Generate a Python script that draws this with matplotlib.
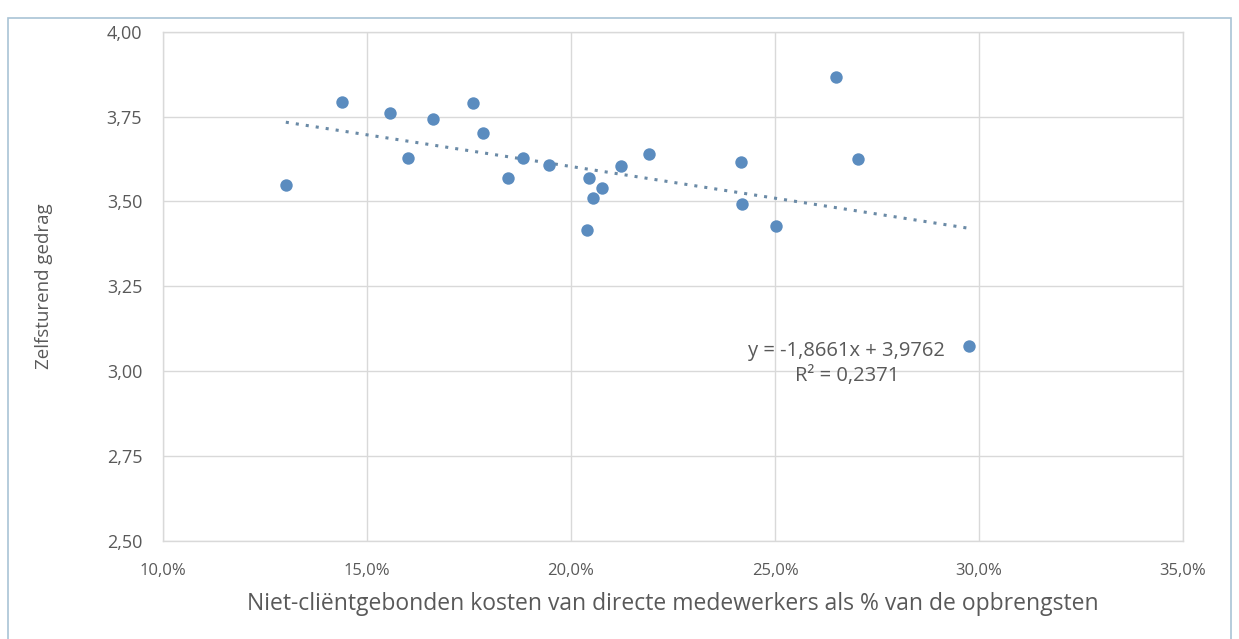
import numpy as np
import matplotlib
matplotlib.use("Agg")
import matplotlib.pyplot as plt
from matplotlib.patches import Rectangle
from matplotlib.ticker import FuncFormatter

# kosten (fractie van opbrengsten) en zelfsturend gedrag
kosten = [0.1301, 0.1438, 0.1556, 0.1601, 0.1662, 0.1760, 0.1784, 0.1846,
          0.1882, 0.1946, 0.2039, 0.2045, 0.2054, 0.2077, 0.2123, 0.2191,
          0.2417, 0.2419, 0.2502, 0.2650, 0.2703, 0.2975]
gedrag = [3.548, 3.794, 3.760, 3.629, 3.744, 3.790, 3.701, 3.570,
          3.629, 3.608, 3.417, 3.570, 3.511, 3.540, 3.603, 3.641,
          3.616, 3.493, 3.429, 3.867, 3.626, 3.074]

# trendlijn zoals in de grafiek vermeld
helling = -1.8661
snijpunt = 3.9762
r2 = 0.2371

x_ticks = [0.10, 0.15, 0.20, 0.25, 0.30, 0.35]
y_ticks = [2.50, 2.75, 3.00, 3.25, 3.50, 3.75, 4.00]

grijs = '#595959'
rooster = '#d9d9d9'
blauw = '#5b8cbf'

plt.rcParams['font.family'] = ['Open Sans', 'DejaVu Sans']

fig = plt.figure(figsize=(12.39, 6.39), dpi=100)
ax = fig.add_axes([163 / 1239, 1 - 541 / 639, 1020 / 1239, 509.3 / 639])

# kader rond de grafiek
fig.patches.append(Rectangle((8 / 1239, -0.01), 1223 / 1239, 1 - 18 / 639 + 0.01,
                             transform=fig.transFigure, fill=False,
                             edgecolor='#a9c4d6', linewidth=1.2))

ax.scatter(kosten, gedrag, s=80, color=blauw, zorder=3, linewidths=0)

xs = np.array([min(kosten), max(kosten)])
ax.plot(xs, helling * xs + snijpunt, color='#6a8aa6', linewidth=2.2,
        linestyle=(0, (1, 2.3)), zorder=2)

ax.set_xlim(0.10, 0.35)
ax.set_ylim(2.50, 4.00)
ax.set_xticks(x_ticks)
ax.set_yticks(y_ticks)
ax.xaxis.set_major_formatter(FuncFormatter(lambda v, p: f"{v * 100:.1f}%".replace('.', ',')))
ax.yaxis.set_major_formatter(FuncFormatter(lambda v, p: f"{v:.2f}".replace('.', ',')))
ax.tick_params(length=0, colors=grijs)
ax.tick_params(axis='y', pad=15, labelsize=13)
ax.tick_params(axis='x', pad=16, labelsize=12)

ax.grid(True, color=rooster, linewidth=1)
ax.set_axisbelow(True)
for s in ax.spines.values():
    s.set_color(rooster)
    s.set_linewidth(1)

ax.set_ylabel('Zelfsturend gedrag', fontsize=13.5, color=grijs)
ax.yaxis.set_label_coords(-0.108, 0.5)
ax.set_xlabel('Niet-cliëntgebonden kosten van directe medewerkers als % van de opbrengsten',
              fontsize=16.5, color=grijs)
ax.xaxis.set_label_coords(0.5, -0.1237)
ax.xaxis.label.set_va('center')

ax.text(0.2676, 3.061, f"y = {helling:.4f}x + {snijpunt:.4f}".replace('.', ','),
        fontsize=14.5, color=grijs, ha='center', va='center')
ax.text(0.2676, 2.985, f"R² = {r2:.4f}".replace('.', ','),
        fontsize=14.5, color=grijs, ha='center', va='center')

fig.savefig('out.png', dpi=100)
